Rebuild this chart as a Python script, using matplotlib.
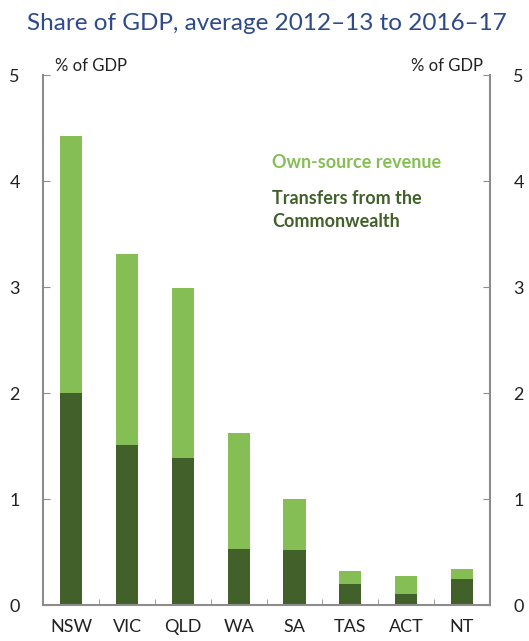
import numpy as np
import matplotlib.pyplot as plt

plt.rcParams['font.family'] = ['Lato', 'DejaVu Sans']

# data
states = ['NSW', 'VIC', 'QLD', 'WA', 'SA', 'TAS', 'ACT', 'NT']
totals = [4.43, 3.31, 2.99, 1.63, 1.00, 0.32, 0.28, 0.34]
transfers = [2.00, 1.51, 1.39, 0.53, 0.52, 0.20, 0.11, 0.25]
own_source = [t - c for t, c in zip(totals, transfers)]

light = '#86BE56'
dark = '#42612A'
axcol = '#8C8C8C'

fig = plt.figure(figsize=(5.29, 6.41), dpi=100)
ax = fig.add_axes([0.082, 0.0557, 0.844, 0.8268])

x = np.arange(len(states))
ax.bar(x, transfers, width=0.4, color=dark, edgecolor='none')
ax.bar(x, own_source, width=0.4, bottom=transfers, color=light, edgecolor='none')

ax.set_xlim(-0.5, len(states) - 0.5)
ax.set_ylim(0, 5)
ax.set_yticks(range(6))
ax.set_xticks(x)
ax.set_xticklabels(states, fontsize=13, color='#222222')
ax.tick_params(axis='x', length=0, pad=10)
ax.set_xticks(x[:-1] + 0.5, minor=True)
ax.tick_params(axis='x', which='minor', direction='in', length=4, color=axcol)
ax.tick_params(axis='y', direction='in', length=5, color=axcol, labelsize=13,
               labelcolor='#222222', pad=17, left=True, right=True,
               labelleft=True, labelright=True)

for s in ['top']:
    ax.spines[s].set_visible(False)
for s in ['left', 'right', 'bottom']:
    ax.spines[s].set_color(axcol)
    ax.spines[s].set_linewidth(1.5)

ax.text(0.025, 1.003, '% of GDP', transform=ax.transAxes, fontsize=12,
        ha='left', va='bottom', color='#222222')
ax.text(0.985, 1.003, '% of GDP', transform=ax.transAxes, fontsize=12,
        ha='right', va='bottom', color='#222222')

ax.text(3.6, 4.18, 'Own-source revenue', fontsize=13, fontweight='bold',
        color=light, ha='left', va='center')
ax.text(3.6, 3.73, 'Transfers from the\nCommonwealth', fontsize=13,
        fontweight='bold', color=dark, ha='left', va='center', linespacing=1.45)

fig.text(0.505, 0.963, 'Share of GDP, average 2012\u201313 to 2016\u201317',
         fontsize=17.5, color='#2E4A8A', ha='center', va='center')

fig.savefig('out.png', dpi=100)
